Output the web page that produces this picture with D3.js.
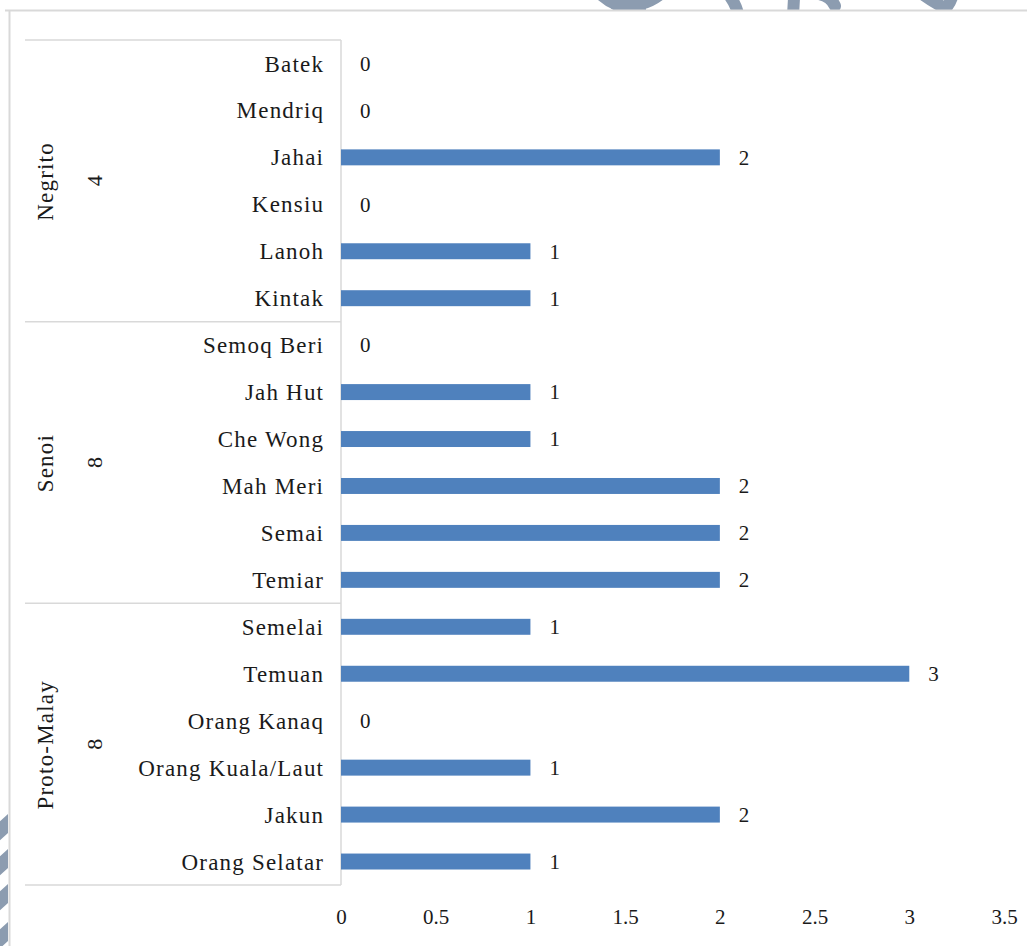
<!DOCTYPE html>
<html>
<head>
<meta charset="utf-8">
<script src="https://cdn.jsdelivr.net/npm/d3@7"></script>
<style>
  html, body { margin: 0; padding: 0; background: #fff; }
  svg { display: block; }
</style>
</head>
<body>
<svg id="chart" width="1027" height="946"></svg>
<script>
// Ethnic sub-groups, listed top to bottom
const tribes = [
  "Batek", "Mendriq", "Jahai", "Kensiu", "Lanoh", "Kintak",
  "Semoq Beri", "Jah Hut", "Che Wong", "Mah Meri", "Semai", "Temiar",
  "Semelai", "Temuan", "Orang Kanaq", "Orang Kuala/Laut", "Jakun", "Orang Selatar"
];
const counts = [0, 0, 2, 0, 1, 1, 0, 1, 1, 2, 2, 2, 1, 3, 0, 1, 2, 1];

// Main groups, their totals and how many sub-groups each spans
const groups = ["Negrito", "Senoi", "Proto-Malay"];
const groupTotals = [4, 8, 8];
const groupSizes = [6, 6, 6];

const xTicks = [0, 0.5, 1, 1.5, 2, 2.5, 3, 3.5];

const FONT = "'Liberation Serif', 'Times New Roman', Tinos, serif";
const INK = "#1a1a1a";
const SPACING = 1.2;

const svg = d3.select("#chart")
  .attr("font-family", FONT);
const W = 1027, H = 946;

const plotLeft = 341, plotTop = 40, plotBottom = 885;
const x = d3.scaleLinear().domain([0, 3.5]).range([plotLeft, plotLeft + 663]);
const y = d3.scaleBand().domain(tribes).range([plotTop, plotBottom]).paddingInner(0.66).paddingOuter(0.33);

const gridColor = "#d9d9d9";

// Faint watermark strokes peeking in at the edges
const defs = svg.append("defs");
defs.append("clipPath").attr("id", "clipTop")
  .append("rect").attr("x", 0).attr("y", 0).attr("width", W).attr("height", 10);
defs.append("clipPath").attr("id", "clipLeft")
  .append("rect").attr("x", 0).attr("y", 0).attr("width", 8).attr("height", H);
const wm = svg.append("g").attr("fill", "none").attr("stroke", "#8c9cb0").attr("stroke-linecap", "round");
const wmTop = wm.append("g").attr("clip-path", "url(#clipTop)").attr("stroke-width", 12);
[
  "M590,-20 Q605,8 640,9",
  "M615,4 Q645,10 665,-10",
  "M715,-20 Q735,-2 738,14",
  "M795,-20 L793,16",
  "M800,-6 Q828,-10 835,6",
  "M905,-20 Q925,-2 945,8",
  "M946,8 Q956,-4 952,-20"
].forEach(d => wmTop.append("path").attr("d", d));
const wmLeft = wm.append("g").attr("clip-path", "url(#clipLeft)").attr("stroke-width", 14);
[
  "M-10,840 L14,818",
  "M-10,875 L14,853",
  "M-10,910 L14,888",
  "M-10,948 L14,926"
].forEach(d => wmLeft.append("path").attr("d", d));

// Chart frame
svg.append("line").attr("x1", 5).attr("x2", W).attr("y1", 10.5).attr("y2", 10.5)
  .attr("stroke", gridColor).attr("stroke-width", 2);
svg.append("line").attr("x1", 9.5).attr("x2", 9.5).attr("y1", 10).attr("y2", H)
  .attr("stroke", gridColor).attr("stroke-width", 2);

// Category box: top, group separators, bottom
const step = (plotBottom - plotTop) / tribes.length;
let cum = 0;
const boundaries = [0];
groupSizes.forEach(s => { cum += s; boundaries.push(cum); });
boundaries.forEach(b => {
  svg.append("line")
    .attr("x1", 25).attr("x2", plotLeft)
    .attr("y1", plotTop + b * step).attr("y2", plotTop + b * step)
    .attr("stroke", gridColor).attr("stroke-width", 1.5);
});

// Vertical axis line
svg.append("line").attr("x1", plotLeft).attr("x2", plotLeft)
  .attr("y1", plotTop).attr("y2", plotBottom)
  .attr("stroke", gridColor).attr("stroke-width", 1.5);

// Sub-group labels
svg.append("g").selectAll("text").data(tribes).join("text")
  .attr("x", 323 + SPACING)
  .attr("y", d => y(d) + y.bandwidth() / 2)
  .attr("dy", "0.35em")
  .attr("text-anchor", "end")
  .attr("font-size", 23)
  .attr("letter-spacing", SPACING)
  .attr("fill", INK)
  .text(d => d);

// Group labels and totals, rotated
groups.forEach((g, i) => {
  const cy = plotTop + (boundaries[i] + boundaries[i + 1]) / 2 * step;
  svg.append("text")
    .attr("transform", `translate(45,${cy + SPACING / 2}) rotate(-90)`)
    .attr("dy", "0.35em")
    .attr("text-anchor", "middle")
    .attr("font-size", 23)
    .attr("letter-spacing", SPACING)
    .attr("fill", INK)
    .text(g);
  svg.append("text")
    .attr("transform", `translate(94,${cy}) rotate(-90)`)
    .attr("dy", "0.35em")
    .attr("text-anchor", "middle")
    .attr("font-size", 22)
    .attr("fill", INK)
    .text(groupTotals[i]);
});

// Bars
svg.append("g").selectAll("rect").data(tribes).join("rect")
  .attr("x", x(0))
  .attr("y", d => y(d))
  .attr("width", (d, i) => x(counts[i]) - x(0))
  .attr("height", y.bandwidth())
  .attr("fill", "#4f81bd");

// Value labels
svg.append("g").selectAll("text").data(tribes).join("text")
  .attr("x", (d, i) => x(counts[i]) + 19)
  .attr("y", d => y(d) + y.bandwidth() / 2)
  .attr("dy", "0.35em")
  .attr("font-size", 21)
  .attr("fill", INK)
  .text((d, i) => counts[i]);

// Bottom axis labels (no line, no ticks)
const xAxis = d3.axisBottom(x).tickValues(xTicks).tickSize(0).tickPadding(0)
  .tickFormat(d3.format("~g"));
const ax = svg.append("g").attr("transform", `translate(0,909)`).call(xAxis);
ax.select(".domain").remove();
ax.attr("font-family", FONT).attr("font-size", 21);
ax.selectAll("text")
  .attr("fill", INK)
  .attr("dy", "0.71em")
  .attr("y", 0);
</script>
</body>
</html>
